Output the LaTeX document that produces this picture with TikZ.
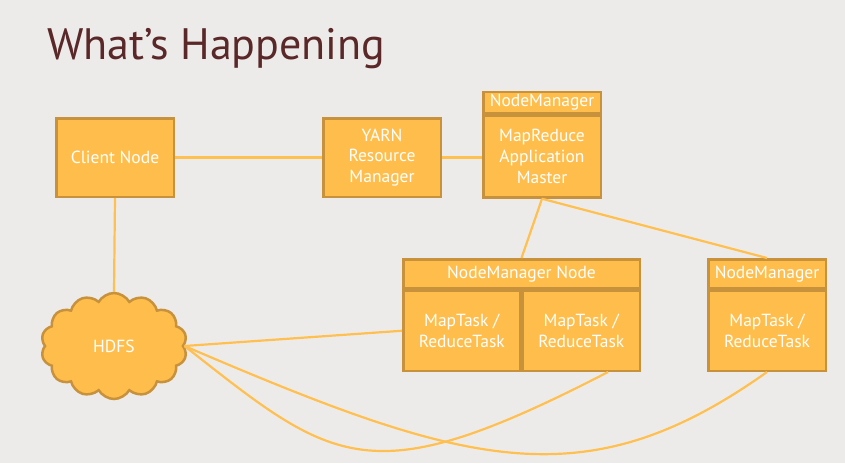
\documentclass[tikz,border=0pt]{standalone}
\usepackage{fontspec}
\setmainfont{PT Sans}
\usetikzlibrary{positioning,shapes.symbols}
\definecolor{slidebg}{HTML}{EDEBEA}
\definecolor{boxfill}{HTML}{FFBE4C}
\definecolor{boxline}{HTML}{C8913B}
\definecolor{linkline}{HTML}{FFC04F}
\definecolor{titlebrown}{HTML}{5A2828}
\tikzset{
  box/.style={draw=boxline, fill=boxfill, line width=2.5pt, text=white, align=center,
    inner sep=0pt, minimum width=117.5pt, font=\fontsize{17.5}{20.8}\selectfont},
  link/.style={draw=linkline, line width=2.2pt},
}
\begin{document}
\begin{tikzpicture}[x=1pt,y=-1pt]
\fill[slidebg] (0,0) rectangle (845,463);
\useasboundingbox (0,0) rectangle (845,463);
\node[anchor=base west, inner sep=0pt, text=titlebrown, font=\fontsize{44}{50}\selectfont] (title) at (47,59) {What’s Happening};
\node[box, minimum height=78.5pt] (client) at (115,157.5) {Client Node};
\node[box, minimum height=78.5pt] (yarn) at (382,157.5) {YARN\\Resource\\Manager};
% application master
\node[box, minimum height=21pt] (amhead) at (542,102.5) {NodeManager};
\node[box, minimum height=82pt, below=0pt of amhead] (ambody) {MapReduce\\Application\\Master};
% node managers
\node[box, minimum width=236.5pt, minimum height=29pt] (nmhead) at (521.5,273.75) {NodeManager Node};
\node[box, minimum width=117pt, minimum height=80pt, below right=0pt of nmhead.south west, anchor=north west] (task1) {MapTask /\\ReduceTask};
\node[box, minimum width=117pt, minimum height=80pt, right=0pt of task1] (task2) {MapTask /\\ReduceTask};
\node[box, minimum height=29pt] (nmtwohead) at (767,273.75) {NodeManager};
\node[box, minimum height=80pt, below=0pt of nmtwohead] (nmtwobody) {MapTask /\\ReduceTask};
\node[cloud, cloud puffs=14, cloud puff arc=120, draw=boxline, fill=boxfill, line width=2.5pt, text=white,
  minimum width=146pt, minimum height=106pt, font=\fontsize{17.5}{20.8}\selectfont] (hdfs) at (114,346) {HDFS};
\draw[link] (client) -- (yarn);
\draw[link] (yarn.east) -- (yarn.east -| ambody.west);
\draw[link] (client.south) -- (hdfs.north);
\draw[link] (ambody.south) -- (nmhead.north);
\draw[link] (ambody.south) -- (nmtwohead.north);
\draw[link] (hdfs.east) -- (task1.west);
\draw[link] (hdfs.east) .. controls +(150,118) and +(-240,124) .. (task2.-57);
\draw[link] (hdfs.east) .. controls +(280,120) and +(-183,130) .. (nmtwobody.south);
\end{tikzpicture}
\end{document}
